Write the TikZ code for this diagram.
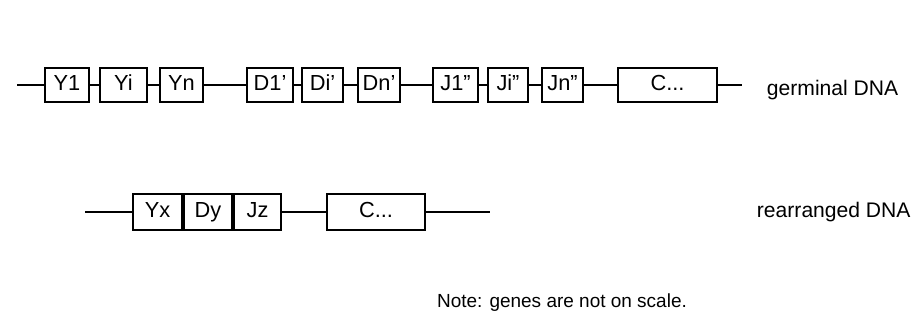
\documentclass[tikz,border=0pt]{standalone}
\usepackage{fontspec}
\setmainfont{Liberation Sans}
\usepackage{tikz}
\usetikzlibrary{positioning}

\tikzset{
  gene/.style={draw, line width=1.5pt, inner sep=0pt, minimum height=0.87cm, text height=1.9ex, text depth=0.5ex, font=\fontsize{15.5}{17}\selectfont},
  strand/.style={line width=1.5pt},
  label/.style={font=\fontsize{15}{17}\selectfont, anchor=west}
}

\begin{document}
\begin{tikzpicture}[x=0.025cm,y=-0.025cm]
        \useasboundingbox[fill=white] (0,0) rectangle (922,334);
        % germinal DNA
        \coordinate (gl) at (17,85);
        \coordinate (gr) at (742,85);
        \foreach \n/\x/\w/\t in {y1/67/1.1/Y1, yi/123.5/1.17/Yi, yn/181.5/1.07/Yn,
                                 d1/270/1.15/D1’, di/322.5/1.02/Di’, dn/379/1.05/Dn’,
                                 j1/455.5/1.12/J1”, ji/508/1.0/Ji”, jn/562.5/1.02/Jn”} {
          \node[gene, minimum width=\w cm] (\n) at (\x,85) {\t};
        }
        \node[gene, minimum width=2.47cm] (gc) at (667.5,85) {C...};
        \foreach \a/\b in {gl/y1, y1/yi, yi/yn, yn/d1, d1/di, di/dn, dn/j1, j1/ji, ji/jn, jn/gc, gc/gr} {
          \draw[strand] (\a) -- (\b);
        }
        \node[label] (germ) at (762,90) {germinal DNA};
        % rearranged DNA
        \coordinate (rl) at (85,212);
        \coordinate (rr) at (490,212);
        \node[gene, minimum width=1.22cm, minimum height=0.92cm] (yx) at (157.5,212) {Yx};
        \node[gene, minimum width=1.2cm, minimum height=0.92cm, right=0pt of yx] (dy) {Dy};
        \node[gene, minimum width=1.17cm, minimum height=0.92cm, right=0pt of dy] (jz) {Jz};
        \node[gene, minimum width=2.45cm, minimum height=0.92cm] (rc) at (376,212) {C...};
        \draw[strand] (rl) -- (yx);
        \draw[strand] (jz) -- (rc);
        \draw[strand] (rc) -- (rr);
        \node[label] (rear) at (752,212) {rearranged DNA};
        % note
        \node[font=\fontsize{13.5}{16}\selectfont] (note) at (562,303) {Note: genes are not on scale.};
      \end{tikzpicture}
\end{document}
